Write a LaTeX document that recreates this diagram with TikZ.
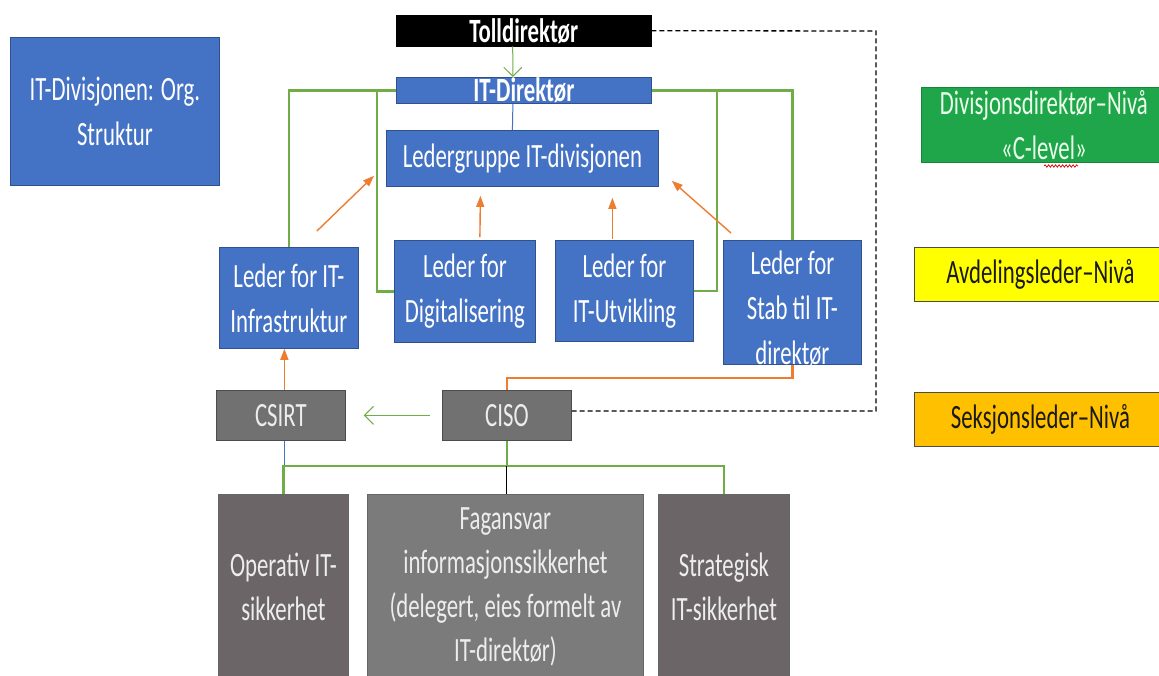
\documentclass[tikz,border=0pt]{standalone}
\usepackage{fontspec}
\newfontfamily\calib{Carlito}[FakeStretch=0.67]
\usetikzlibrary{arrows.meta,decorations.pathmorphing}
\definecolor{offblue}{HTML}{4472C4}
\definecolor{offblueedge}{HTML}{2F528F}
\definecolor{midgray}{HTML}{717171}
\definecolor{darkgray}{HTML}{6B6567}
\definecolor{lightgray}{HTML}{7B7B7B}
\definecolor{levelgreen}{HTML}{1FA64B}
\definecolor{levelyellow}{HTML}{FFFF00}
\definecolor{levelorange}{HTML}{FFC000}
\definecolor{linkgreen}{HTML}{70AD47}
\definecolor{linkorange}{HTML}{ED7D31}
\begin{document}
\begin{tikzpicture}[x=1pt,y=-1pt,
  box/.style={rectangle, inner sep=0pt, align=center, anchor=north west,
    font=\calib\fontsize{34}{45}\selectfont, text=white},
  boxtext/.style={inner sep=0pt, align=center, font=\calib\fontsize{34}{45}\selectfont, text=white},
  bluebox/.style={box, fill=offblue, draw=offblueedge, line width=0.8pt},
  blackbox/.style={box, fill=black, draw=black, font=\calib\bfseries\fontsize{34}{40}\selectfont},
  graybox/.style={box, fill=midgray, draw=black!70, line width=0.8pt, text=white!93!black},
  lowbox/.style={box, fill=darkgray, draw=black!60, line width=0.8pt, text=white!93!black,
    font=\calib\fontsize{34}{44}\selectfont},
  levelbox/.style={box, draw=black!70, line width=0.8pt, text=black!90},
  gline/.style={draw=linkgreen, line width=2.4pt},
  garrow/.style={draw=linkgreen, line width=1pt, -{Straight Barb[length=9pt,width=18pt]}},
  oarrow/.style={draw=linkorange, line width=1.4pt, -{Triangle[length=11pt,width=8pt]}},
  othick/.style={draw=linkorange, line width=2.6pt},
  bthin/.style={draw=offblue, line width=1pt},
  kthin/.style={draw=black, line width=1pt},
  dline/.style={draw=black, line width=1.3pt, dash pattern=on 5pt off 3pt}]
\useasboundingbox (0,0) rectangle (1159,675);
\fill[white] (0,0) rectangle (1159,675);

% title
\node[bluebox, minimum width=209pt, minimum height=148pt] (title) at (10,37)
  {IT-Divisjonen: Org.\\Struktur};

% top management
\node[blackbox, minimum width=255pt, minimum height=31pt] (toll) at (396,15) {Tolldirektør};
\node[bluebox, minimum width=255pt, minimum height=26pt, font=\calib\bfseries\fontsize{34}{40}\selectfont] (itdir) at (396,77) {IT-Direktør};
\node[bluebox, minimum width=272pt, minimum height=56pt] (ledergr) at (386,130) {Ledergruppe IT-divisjonen};

% department heads
\node[bluebox, minimum width=139pt, minimum height=101pt] (infra) at (219,247) {Leder for IT-\\Infrastruktur};
\node[bluebox, minimum width=141pt, minimum height=102pt] (digi) at (394,240) {Leder for\\Digitalisering};
\node[bluebox, minimum width=138pt, minimum height=101pt] (utv) at (555,240) {Leder for\\IT-Utvikling};
\node[bluebox, minimum width=138pt, minimum height=124pt] (stab) at (723,240) {};
\node[boxtext] (stabtext) at ([yshift=-6pt]stab.center) {Leder for\\Stab til IT-\\direktør};

% security units
\node[graybox, minimum width=129pt, minimum height=50pt] (csirt) at (216,390) {CSIRT};
\node[graybox, minimum width=129pt, minimum height=50pt] (ciso) at (442,390) {CISO};

\node[lowbox, minimum width=130pt, minimum height=185pt] (oper) at (218,494)
  {Operativ IT-\\sikkerhet};
\node[lowbox, fill=lightgray, minimum width=276pt, minimum height=185pt] (fag) at (367,494)
  {Fagansvar\\informasjonssikkerhet\\(delegert, eies formelt av\\IT-direktør)};
\node[lowbox, minimum width=131pt, minimum height=185pt] (strat) at (658,494)
  {Strategisk\\IT-sikkerhet};

% level legend
\node[levelbox, fill=levelgreen, draw=levelgreen!80!black, text=white!92!green, minimum width=245pt, minimum height=75pt] (lvlc) at (921,87)
  {\parbox{238pt}{\centering Divisjonsdirektør–Nivå\\«C-level»}};
\node[levelbox, fill=levelyellow, minimum width=252pt, minimum height=54pt] (lvla) at (914,247)
  {\parbox{245pt}{\centering Avdelingsleder–Nivå}};
\node[levelbox, fill=levelorange, minimum width=252pt, minimum height=54pt] (lvls) at (914,392)
  {\parbox{245pt}{\centering Seksjonsleder–Nivå}};
\draw[red!85!black, line width=0.7pt, decorate, decoration={snake, amplitude=1.2pt, segment length=3.5pt}]
  (1044,166) -- (1078,166);

% reporting lines from the IT director
\coordinate (xleft) at (377,0);
\coordinate (xright) at (717,0);
\draw[garrow] ([xshift=-11pt]toll.south) -- ([xshift=-11pt]itdir.north);
\draw[bthin] ([xshift=-11pt]itdir.south) -- ([xshift=-10pt]ledergr.north);
\draw[gline] (itdir.west) -| (infra.north);
\draw[gline] (itdir.west -| xleft) |- (digi.west);
\draw[gline] (itdir.east) -| (stab.north);
\draw[gline] (itdir.east -| xright) |- (utv.east);

% participation in the management group
\draw[oarrow] ([shift={(28,-16)}]infra.north) -- ([shift={(-12,-11)}]ledergr.south west);
\draw[oarrow] ([shift={(15,-3)}]digi.north) -- ([shift={(-42,9)}]ledergr.south);
\draw[oarrow] ([shift={(-12,-1)}]utv.north) -- ([shift={(90,11)}]ledergr.south);
\draw[oarrow] ([shift={(8,-7)}]stab.north west) -- ([shift={(13,-6)}]ledergr.south east);

% security lines
\draw[oarrow] ([xshift=3.5pt]csirt.north) -- ([xshift=-4.5pt]infra.south);
\draw[othick] (stab.south) -- ++(0,13) -| (ciso.north);
\draw[garrow] ([xshift=-12pt]ciso.west) -- ([xshift=18pt]csirt.east);
\coordinate (dtop) at (876,31);
\coordinate (dbot) at (876,411);
\draw[dline] (toll.east) -- (dtop) -- (dbot) -- (ciso.east |- dbot);

% section tree
\coordinate (bus) at (0,466);
\draw[bthin] ([xshift=3.5pt]csirt.south) -- ([xshift=3.5pt]csirt.south |- bus);
\draw[gline] (oper.north) -- (oper.north |- bus) -- (strat.north |- bus) -- (strat.north);
\draw[gline] (ciso.south) -- (ciso.south |- bus);
\draw[kthin] (ciso.south |- bus) -- (fag.north -| ciso.south);
\end{tikzpicture}
\end{document}
